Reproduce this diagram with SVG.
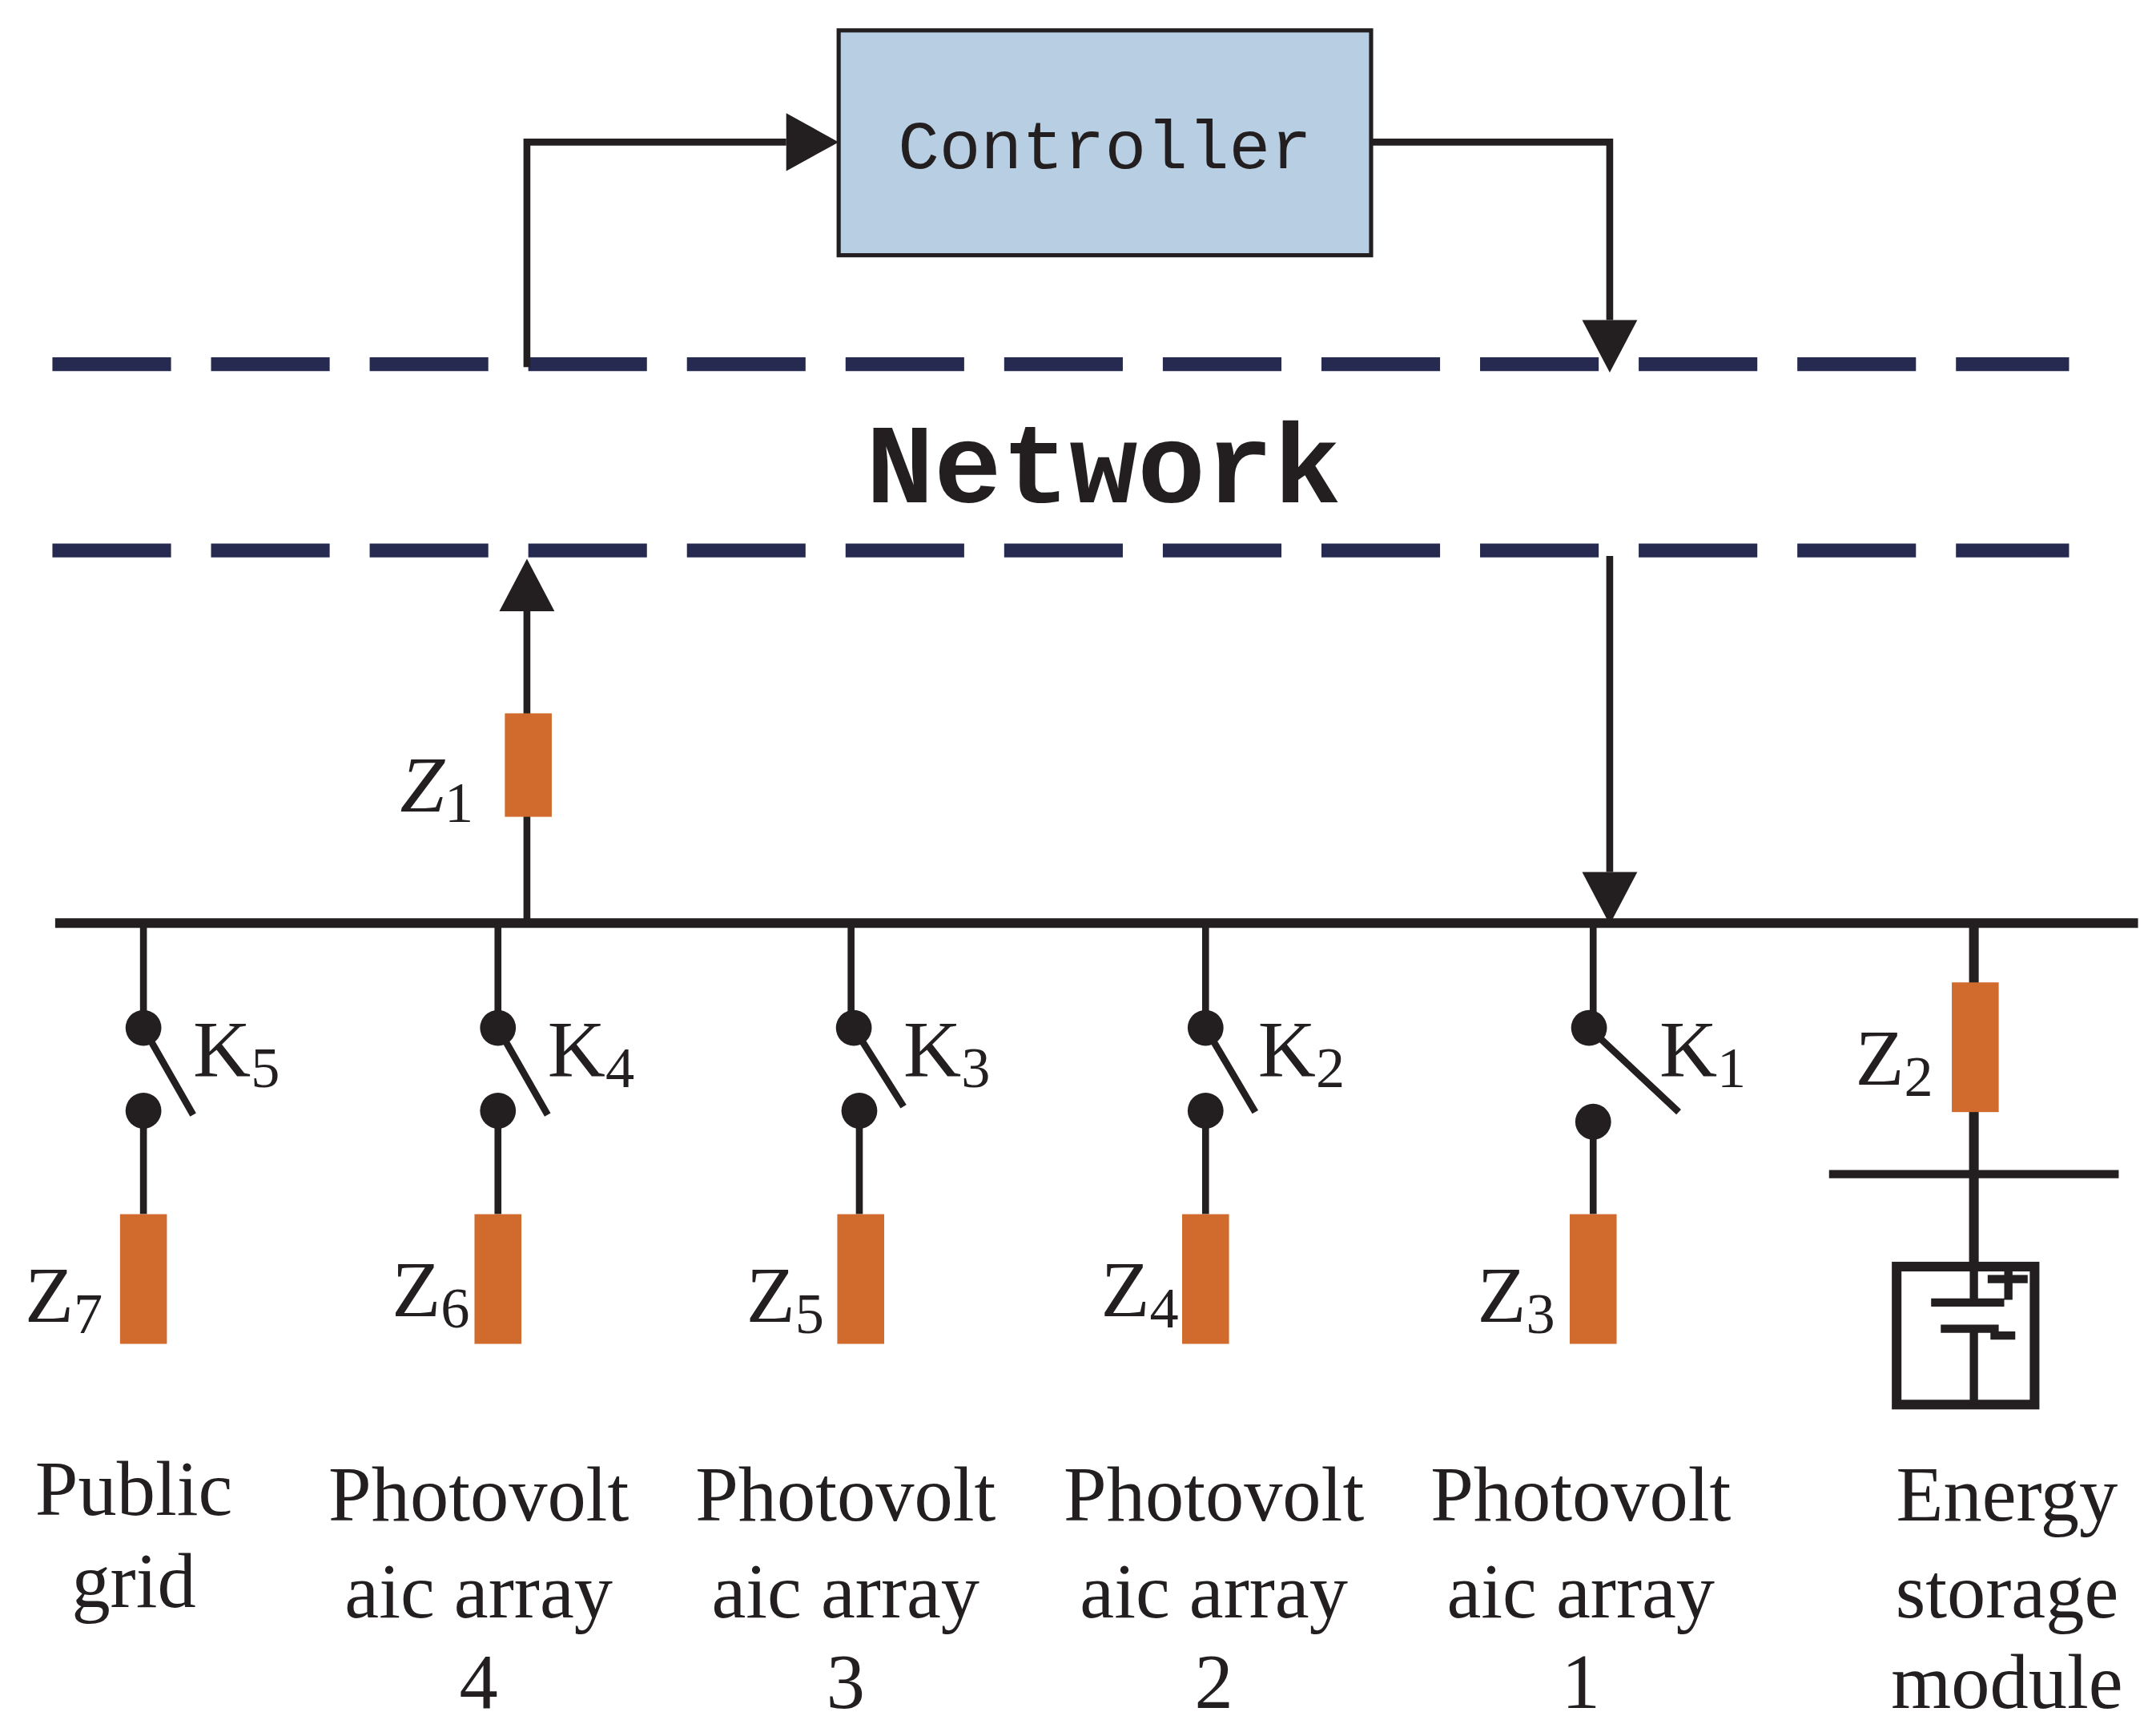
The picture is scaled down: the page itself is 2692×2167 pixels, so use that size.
<svg xmlns="http://www.w3.org/2000/svg" width="2692" height="2167" viewBox="0 0 2692 2167">
<style>
.w{stroke:#231f20;fill:none;stroke-linecap:butt}
.z{fill:#d06b2d}
.dot{fill:#231f20}
.lab{font-family:"Liberation Serif",serif;font-size:56px;fill:#231f20;text-anchor:middle}
.sym{font-family:"Liberation Serif",serif;font-size:58px;fill:#231f20}
.sub{font-size:42px}
.mono{font-family:"Liberation Mono",monospace;fill:#231f20;text-anchor:middle}
.dash{stroke:#272a50;stroke-width:10;stroke-dasharray:86 29;fill:none}
</style>
<rect width="2692" height="2167" fill="#fff"/>
<g transform="scale(1.7223)">
<g id="controller">
<rect x="608" y="22" width="386" height="163" fill="#b8cfe3" stroke="#231f20" stroke-width="3"/>
<text x="801" y="122" class="mono" font-size="50">Controller</text>
</g>
<g id="network">
<line x1="38" y1="264" x2="1500" y2="264" class="dash"/>
<line x1="38" y1="399" x2="1500" y2="399" class="dash"/>
<text x="800" y="364" class="mono" font-size="82" font-weight="bold">Network</text>
</g>
<g id="connectors">
<path d="M382,266 V103 H570" class="w" stroke-width="5"/>
<path d="M570,82 L608,103 L570,124 z" class="dot"/>
<path d="M994,103 H1167 V232" class="w" stroke-width="5"/>
<path d="M1147,232 L1167,270 L1187,232 z" class="dot"/>
<path d="M382,669 V443" class="w" stroke-width="5"/>
<path d="M362,443 L382,405 L402,443 z" class="dot"/>
<path d="M1167,403 V632" class="w" stroke-width="5"/>
<path d="M1147,632 L1167,670 L1187,632 z" class="dot"/>
</g>
<g id="bus"><line x1="40" y1="669" x2="1550" y2="669" class="w" stroke-width="7"/></g>
<g id="Z1">
<rect x="366" y="517" width="34" height="75" class="z"/>
<text x="290" y="588" class="sym" font-style="italic">Z<tspan class="sub" font-style="normal" dy="8">1</tspan></text>
</g>
<g id="branch5">
<path d="M104,669 V745 M104,745 L140,808 M104,805 V880" class="w" stroke-width="5"/>
<circle cx="104" cy="745" r="13" class="dot"/><circle cx="104" cy="805" r="13" class="dot"/>
<rect x="87" y="880" width="34" height="94" class="z"/>
<text x="140" y="780" class="sym">K<tspan class="sub" dy="8">5</tspan></text>
<text x="18" y="958" class="sym">Z<tspan class="sub" dy="8">7</tspan></text>
<text x="97" y="1098" class="lab">Public</text><text x="97" y="1165" class="lab">grid</text>
</g>
<g id="branch4">
<path d="M361,669 V745 M361,745 L397,808 M361,805 V880" class="w" stroke-width="5"/>
<circle cx="361" cy="745" r="13" class="dot"/><circle cx="361" cy="805" r="13" class="dot"/>
<rect x="344" y="880" width="34" height="94" class="z"/>
<text x="397" y="780" class="sym">K<tspan class="sub" dy="8">4</tspan></text>
<text x="284" y="954" class="sym">Z<tspan class="sub" dy="8">6</tspan></text>
<text x="347" y="1102" class="lab">Photovolt</text><text x="347" y="1172" class="lab">aic array</text><text x="347" y="1238" class="lab">4</text>
</g>
<g id="branch3">
<path d="M617,669 V745 M619,745 L655,802 M623,805 V880" class="w" stroke-width="5"/>
<circle cx="619" cy="745" r="13" class="dot"/><circle cx="623" cy="805" r="13" class="dot"/>
<rect x="607" y="880" width="34" height="94" class="z"/>
<text x="655" y="780" class="sym">K<tspan class="sub" dy="8">3</tspan></text>
<text x="541" y="958" class="sym">Z<tspan class="sub" dy="8">5</tspan></text>
<text x="613" y="1102" class="lab">Photovolt</text><text x="613" y="1172" class="lab">aic array</text><text x="613" y="1238" class="lab">3</text>
</g>
<g id="branch2">
<path d="M874,669 V745 M874,745 L910,806 M874,805 V880" class="w" stroke-width="5"/>
<circle cx="874" cy="745" r="13" class="dot"/><circle cx="874" cy="805" r="13" class="dot"/>
<rect x="857" y="880" width="34" height="94" class="z"/>
<text x="912" y="780" class="sym">K<tspan class="sub" dy="8">2</tspan></text>
<text x="798" y="954" class="sym">Z<tspan class="sub" dy="8">4</tspan></text>
<text x="880" y="1102" class="lab">Photovolt</text><text x="880" y="1172" class="lab">aic array</text><text x="880" y="1238" class="lab">2</text>
</g>
<g id="branch1">
<path d="M1155,669 V745 M1152,745 L1217,806 M1155,813 V880" class="w" stroke-width="5"/>
<circle cx="1152" cy="745" r="13" class="dot"/><circle cx="1155" cy="813" r="13" class="dot"/>
<rect x="1138" y="880" width="34" height="94" class="z"/>
<text x="1203" y="780" class="sym">K<tspan class="sub" dy="8">1</tspan></text>
<text x="1071" y="958" class="sym">Z<tspan class="sub" dy="8">3</tspan></text>
<text x="1146" y="1102" class="lab">Photovolt</text><text x="1146" y="1172" class="lab">aic array</text><text x="1146" y="1238" class="lab">1</text>
</g>
<g id="storage">
<path d="M1431,669 V915" class="w" stroke-width="7"/>
<rect x="1415" y="712" width="34" height="94" class="z"/>
<line x1="1326" y1="851" x2="1536" y2="851" class="w" stroke-width="6"/>
<text x="1345" y="786" class="sym">Z<tspan class="sub" dy="8">2</tspan></text>
<rect x="1375" y="918" width="100" height="100" class="w" stroke-width="7"/>
<path d="M1431,918 V944 M1400,944 H1453 M1441,927 H1470 M1456,921 V942 M1407,963 H1446 V968 H1461 M1431,963 V1018" class="w" stroke-width="6"/>
<text x="1455" y="1102" class="lab">Energy</text><text x="1455" y="1172" class="lab">storage</text><text x="1455" y="1238" class="lab">module</text>
</g>
</g>
</svg>
